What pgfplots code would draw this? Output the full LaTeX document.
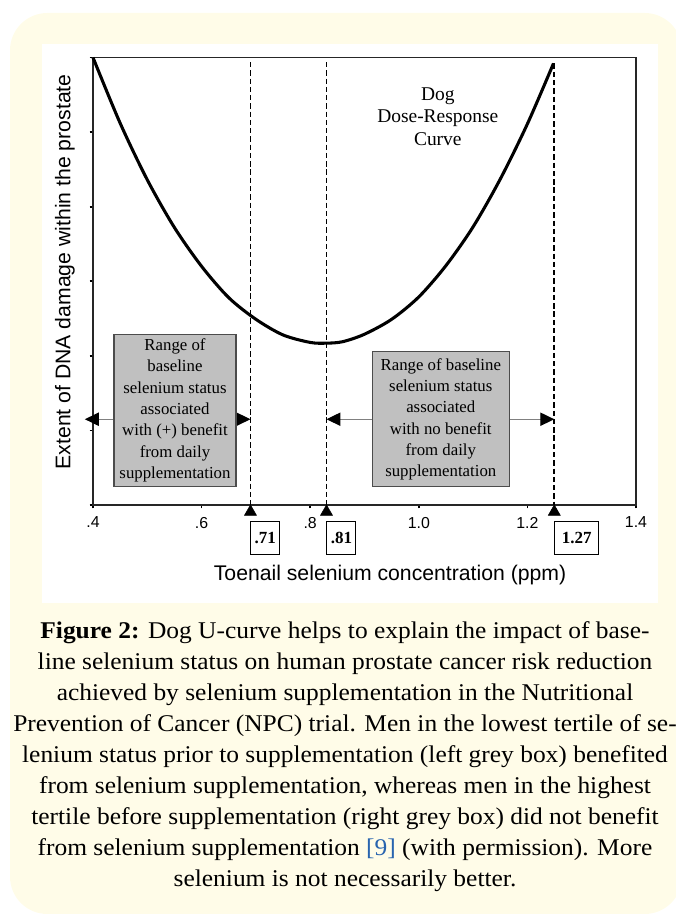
\documentclass[border=0pt]{standalone}
\usepackage{fontspec}
\setmainfont{Liberation Serif}
\newfontfamily\arial{Liberation Sans}
\newfontfamily\capfont{Liberation Serif}[FakeStretch=1.06]
\usepackage{pgfplots}
\pgfplotsset{compat=1.18}
\usetikzlibrary{arrows.meta}
\definecolor{panel}{RGB}{255,252,232}
\definecolor{boxgray}{RGB}{192,192,192}
\definecolor{linkblue}{RGB}{40,100,175}

\begin{document}
\begin{tikzpicture}[x=0.75pt,y=0.75pt]
\path[use as bounding box] (0,0) rectangle (675,917);
\fill[panel, rounded corners=28pt] (10,3) rectangle (682,904);
\fill[white] (42,314) rectangle (658,873);

\begin{axis}[
  at={(69.75pt,309pt)}, anchor=south west,
  scale only axis, width=407.25pt, height=335.6pt,
  xmin=0.4, xmax=1.4, ymin=0, ymax=6,
  clip=false,
  axis line style={draw=black!85, line width=0.9pt},
  xtick={0.4,0.6,0.8,1.0,1.2,1.4},
  xticklabels={.4,.6,.8,1.0,1.2,1.4},
  ytick={0,1,2,3,4,5,6}, yticklabels={},
  tick align=outside, tick pos=left,
  major tick length=2.5pt,
  every tick/.style={black, line width=1.3pt},
  xticklabel style={font=\arial\fontsize{11.9}{12}\selectfont, yshift=-3pt},
  xlabel={Toenail selenium concentration (ppm)},
  ylabel={Extent of DNA damage within the prostate},
  label style={font=\arial\fontsize{15.9}{18}\selectfont},
  xlabel style={at={(axis description cs:0.547,-0.156)}, anchor=center},
  ylabel style={at={(axis description cs:-0.0516,0.521)}, anchor=center},
]
% dashed reference lines
\addplot[black, line width=1.4pt, dash pattern=on 4pt off 2.2pt] coordinates {(0.69,5.94) (0.69,0)};
\addplot[black, line width=1.4pt, dash pattern=on 4pt off 2.2pt] coordinates {(0.83,5.94) (0.83,0)};
\addplot[black, line width=1.4pt, dash pattern=on 4pt off 2.2pt] coordinates {(1.2495,5.92) (1.2495,0)};

% dose-response curve
\addplot[black, line width=2.3pt, smooth] coordinates {
(0.400,6.00) (0.450,5.12) (0.500,4.36) (0.550,3.72) (0.600,3.20)
(0.650,2.78) (0.700,2.49) (0.750,2.28) (0.800,2.18) (0.830,2.17)
(0.860,2.19) (0.900,2.29) (0.950,2.49) (1.000,2.79) (1.050,3.21)
(1.100,3.73) (1.150,4.37) (1.200,5.11) (1.248,5.92)};

% triangles under the axis
\addplot[only marks, mark=triangle*, mark size=5.2pt, black] coordinates {(0.69,-0.092) (0.83,-0.092) (1.2495,-0.092)};

% range arrows
\addplot[gray, line width=0.8pt, {Triangle[color=black,length=10.5pt,width=10pt]}-{Triangle[color=black,length=10.5pt,width=10pt]}] coordinates {(0.385,1.15) (0.69,1.15)};
\addplot[gray, line width=0.8pt, {Triangle[color=black,length=10.5pt,width=10pt]}-{Triangle[color=black,length=10.5pt,width=10pt]}] coordinates {(0.83,1.15) (1.2495,1.15)};

% grey boxes
\node[draw=black!70, fill=boxgray, line width=0.8pt, minimum width=91.5pt, minimum height=114pt, inner sep=0pt, align=center, font=\fontsize{12.6}{16}\selectfont] at (axis cs:0.551,1.267) {Range of\\baseline\\selenium status\\associated\\with (+) benefit\\from daily\\supplementation};
\node[draw=black!70, fill=boxgray, line width=0.8pt, minimum width=102.75pt, minimum height=101.25pt, inner sep=0pt, align=center, font=\fontsize{12.6}{16}\selectfont] at (axis cs:1.0405,1.150) {Range of baseline\\selenium status\\associated\\with no benefit\\from daily\\supplementation};

% number boxes
\node[draw=black, line width=0.6pt, fill=white, anchor=north west, minimum width=21.75pt, minimum height=24.75pt, inner sep=0pt, font=\bfseries\fontsize{12.75}{14}\selectfont] at (axis cs:0.69,-0.21) {.71};
\node[draw=black, line width=0.6pt, fill=white, anchor=north west, minimum width=21.75pt, minimum height=24.75pt, inner sep=0pt, font=\bfseries\fontsize{12.75}{14}\selectfont] at (axis cs:0.83,-0.21) {.81};
\node[draw=black, line width=0.6pt, fill=white, anchor=north west, minimum width=33pt, minimum height=24.75pt, inner sep=0pt, font=\bfseries\fontsize{12.75}{14}\selectfont] at (axis cs:1.2495,-0.21) {1.27};

% curve title
\node[align=center, font=\fontsize{14.6}{16.9}\selectfont] at (axis cs:1.035,5.21) {Dog\\Dose-Response\\Curve};
\end{axis}

\node[anchor=north, inner sep=0pt, align=center, font=\capfont\fontsize{18}{23.25}\selectfont] at (345,296) {%
{\bfseries Figure 2:} Dog U-curve helps to explain the impact of base-\\
line selenium status on human prostate cancer risk reduction\\
achieved by selenium supplementation in the Nutritional\\
Prevention of Cancer (NPC) trial. Men in the lowest tertile of se-\\
lenium status prior to supplementation (left grey box) benefited\\
from selenium supplementation, whereas men in the highest\\
tertile before supplementation (right grey box) did not benefit\\
from selenium supplementation \textcolor{linkblue}{[9]} (with permission). More\\
selenium is not necessarily better.};
\end{tikzpicture}
\end{document}
